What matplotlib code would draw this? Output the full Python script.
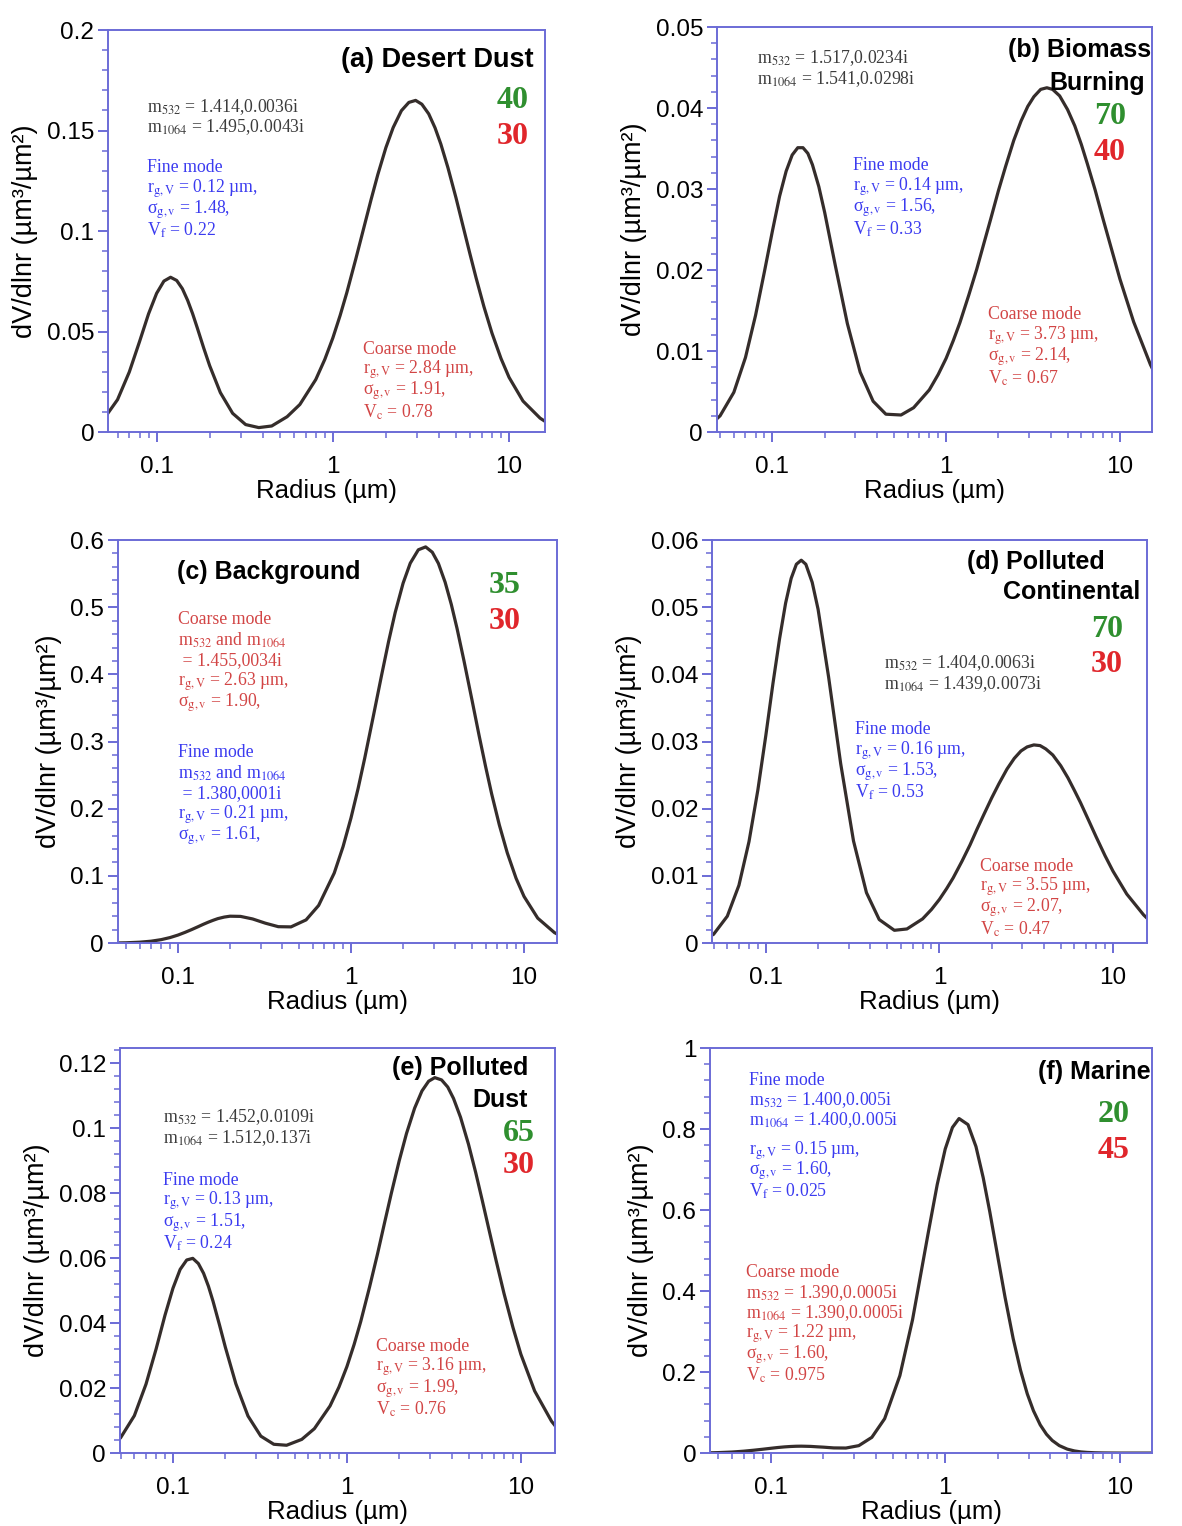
import matplotlib
matplotlib.use('Agg')
import matplotlib.pyplot as plt
from matplotlib.ticker import FixedLocator, MultipleLocator, LogLocator, FuncFormatter, NullFormatter

plt.rcParams['font.family'] = ['Liberation Sans', 'DejaVu Sans']
plt.rcParams['mathtext.fontset'] = 'stix'

# radius (um), shared by all six panels
radius = [0.045, 0.05, 0.06, 0.07, 0.08, 0.09, 0.10, 0.11, 0.12, 0.13, 0.14, 0.15, 0.16,
          0.17, 0.185, 0.20, 0.23, 0.27, 0.32, 0.38, 0.45, 0.55, 0.65, 0.80, 0.90, 1.0,
          1.1, 1.2, 1.35, 1.5, 1.65, 1.8, 2.0, 2.2, 2.45, 2.7, 2.95, 3.2, 3.5, 3.8, 4.1,
          4.5, 5.0, 5.5, 6.0, 6.5, 7.2, 8.0, 9.0, 10.0, 12.0, 15.0, 16.0]

# dV/dlnr (um^3/um^2)
desert_dust = [0.0034, 0.0063, 0.0161, 0.0299, 0.0450, 0.0588, 0.0690, 0.0751, 0.0770,
               0.0754, 0.0713, 0.0655, 0.0589, 0.0519, 0.0418, 0.0330, 0.0196, 0.0093,
               0.0037, 0.0022, 0.0030, 0.0076, 0.0137, 0.0261, 0.0361, 0.0468, 0.0580,
               0.0693, 0.0861, 0.1017, 0.1158, 0.1281, 0.1415, 0.1515, 0.1599, 0.1640,
               0.1650, 0.1631, 0.1583, 0.1514, 0.1433, 0.1315, 0.1165, 0.1019, 0.0886,
               0.0767, 0.0624, 0.0492, 0.0366, 0.0272, 0.0154, 0.0069, 0.0053]

biomass = [0.0011, 0.0020, 0.0049, 0.0092, 0.0144, 0.0198, 0.0248, 0.0291, 0.0322,
           0.0342, 0.0351, 0.0351, 0.0344, 0.0330, 0.0303, 0.0271, 0.0206, 0.0134,
           0.0074, 0.0038, 0.0022, 0.0021, 0.0030, 0.0052, 0.0071, 0.0091, 0.0113,
           0.0135, 0.0169, 0.0201, 0.0233, 0.0262, 0.0298, 0.0328, 0.0360, 0.0384,
           0.0402, 0.0414, 0.0423, 0.0425, 0.0423, 0.0415, 0.0398, 0.0378, 0.0355,
           0.0331, 0.0299, 0.0263, 0.0224, 0.0189, 0.0136, 0.0083, 0.0071]

background = [0.0002, 0.0004, 0.0013, 0.0028, 0.0051, 0.0082, 0.0119, 0.0160, 0.0201,
              0.0241, 0.0279, 0.0312, 0.0340, 0.0364, 0.0387, 0.0400, 0.0397, 0.0359,
              0.0296, 0.0244, 0.0241, 0.0345, 0.0560, 0.1042, 0.1437, 0.1863, 0.2305,
              0.2751, 0.3394, 0.3979, 0.4492, 0.4920, 0.5357, 0.5655, 0.5855, 0.5898,
              0.5819, 0.5652, 0.5372, 0.5041, 0.4685, 0.4199, 0.3622, 0.3090, 0.2625,
              0.2221, 0.1758, 0.1344, 0.0963, 0.0694, 0.0371, 0.0155, 0.0117]

polluted_cont = [0.0007, 0.0013, 0.0040, 0.0086, 0.0151, 0.0228, 0.0309, 0.0387, 0.0453,
                 0.0506, 0.0543, 0.0564, 0.0570, 0.0564, 0.0537, 0.0497, 0.0396, 0.0267,
                 0.0152, 0.0075, 0.0035, 0.0019, 0.0021, 0.0036, 0.0050, 0.0065, 0.0081,
                 0.0097, 0.0122, 0.0146, 0.0170, 0.0191, 0.0216, 0.0237, 0.0259, 0.0275,
                 0.0286, 0.0292, 0.0295, 0.0294, 0.0289, 0.0280, 0.0264, 0.0246, 0.0227,
                 0.0209, 0.0184, 0.0158, 0.0130, 0.0107, 0.0073, 0.0042, 0.0035]

polluted_dust = [0.0025, 0.0047, 0.0115, 0.0212, 0.0320, 0.0424, 0.0507, 0.0565, 0.0594,
                 0.0599, 0.0583, 0.0553, 0.0513, 0.0467, 0.0395, 0.0326, 0.0213, 0.0114,
                 0.0052, 0.0027, 0.0024, 0.0042, 0.0075, 0.0145, 0.0203, 0.0266, 0.0334,
                 0.0404, 0.0511, 0.0613, 0.0711, 0.0799, 0.0900, 0.0983, 0.1061, 0.1114,
                 0.1144, 0.1155, 0.1148, 0.1126, 0.1091, 0.1033, 0.0950, 0.0863, 0.0777,
                 0.0696, 0.0593, 0.0491, 0.0387, 0.0304, 0.0191, 0.0098, 0.0079]

marine = [0.0006, 0.0011, 0.0025, 0.0046, 0.0070, 0.0094, 0.0117, 0.0137, 0.0152,
          0.0162, 0.0168, 0.0170, 0.0167, 0.0164, 0.0154, 0.0146, 0.0127, 0.0124,
          0.0183, 0.0388, 0.0849, 0.1912, 0.3293, 0.5445, 0.663, 0.7507, 0.804,
          0.826, 0.811, 0.7568, 0.680, 0.5957, 0.4848, 0.3852, 0.2826, 0.2044,
          0.1463, 0.1046, 0.0696, 0.0465, 0.0311, 0.0184, 0.0097, 0.0052, 0.0028,
          0.0016, 0.0007, 0.0003, 0.0001, 0.0, 0.0, 0.0, 0.0]

AXIS = '#6b6bd6'
CURVE = '#352d2b'
FINE = '#3b3bf0'
COARSE = '#d24545'
GREY = '#3c3c3c'
GREEN = '#2f8f2f'
RED = '#e0262b'
SERIF = ['Liberation Serif', 'DejaVu Serif']

fig = plt.figure(figsize=(11.82, 15.26), dpi=100)


def make_panel(rect, r, v, xlim, top, major, minor):
    ax = fig.add_axes(rect)
    ax.plot(r, v, color=CURVE, lw=2.3, solid_joinstyle='round')
    ax.set_xscale('log')
    ax.set_xlim(*xlim)
    ax.set_ylim(0, top)
    ax.xaxis.set_major_locator(FixedLocator([0.1, 1, 10]))
    ax.xaxis.set_major_formatter(FuncFormatter(lambda x, p: f'{x:g}'))
    ax.xaxis.set_minor_locator(LogLocator(base=10, subs=range(2, 10)))
    ax.xaxis.set_minor_formatter(NullFormatter())
    ax.yaxis.set_major_locator(MultipleLocator(major))
    ax.yaxis.set_minor_locator(MultipleLocator(minor))
    ax.yaxis.set_major_formatter(FuncFormatter(lambda y, p: f'{y:g}'))
    for s in ax.spines.values():
        s.set_color(AXIS)
        s.set_linewidth(1.4)
    ax.tick_params(which='both', direction='out', color=AXIS, labelcolor='black',
                   labelsize=17.5, top=False, right=False)
    ax.tick_params(which='major', length=7, width=1.4, pad=3)
    ax.tick_params(axis='x', which='major', pad=10)
    ax.tick_params(which='minor', length=4, width=1.1)
    ax.set_xlabel('Radius (µm)', fontsize=18.5, labelpad=1)
    ax.set_ylabel('dV/dlnr (µm³/µm²)', fontsize=19.5, labelpad=6)
    return ax


def note(ax, x, y, lines, color, dy=0.052):
    for i, s in enumerate(lines):
        ax.text(x, y - i * dy, s, transform=ax.transAxes, color=color, fontsize=12.8,
                family=SERIF, ha='left', va='center')


def title(ax, x, y, s, size=18, ha='right'):
    ax.text(x, y, s, transform=ax.transAxes, fontsize=size, fontweight='bold',
            ha=ha, va='center')


def counts(ax, x, y1, y2, n1, n2):
    ax.text(x, y1, n1, transform=ax.transAxes, color=GREEN, fontsize=23,
            fontweight='bold', family=SERIF, ha='right', va='center')
    ax.text(x, y2, n2, transform=ax.transAxes, color=RED, fontsize=23,
            fontweight='bold', family=SERIF, ha='right', va='center')


# (a) Desert Dust
ax = make_panel([0.0914, 0.7169, 0.3697, 0.2634], radius, desert_dust, (0.053, 16), 0.2, 0.05, 0.01)
title(ax, 0.973, 0.925, '(a) Desert Dust', size=19.5)
counts(ax, 0.963, 0.826, 0.734, '40', '30')
note(ax, 0.089, 0.808, [r'm$_{532}$ = 1.414,0.0036i', r'm$_{1064}$ = 1.495,0.0043i'], GREY, dy=0.049)
note(ax, 0.089, 0.657, ['Fine mode', r'r$_{\mathrm{g,V}}$ = 0.12 µm,',
                        r'σ$_{\mathrm{g,v}}$ = 1.48,', r'V$_{\mathrm{f}}$ = 0.22'], FINE)
note(ax, 0.584, 0.206, ['Coarse mode', r'r$_{\mathrm{g,V}}$ = 2.84 µm,',
                        r'σ$_{\mathrm{g,v}}$ = 1.91,', r'V$_{\mathrm{c}}$ = 0.78'], COARSE)

# (b) Biomass Burning
ax = make_panel([0.6066, 0.7169, 0.368, 0.2654], radius, biomass, (0.048, 15.3), 0.05, 0.01, 0.002)
title(ax, 0.997, 0.943, '(b) Biomass')
title(ax, 0.984, 0.862, 'Burning')
counts(ax, 0.940, 0.778, 0.689, '70', '40')
note(ax, 0.092, 0.923, [r'm$_{532}$ = 1.517,0.0234i', r'm$_{1064}$ = 1.541,0.0298i'], GREY, dy=0.051)
note(ax, 0.313, 0.657, ['Fine mode', r'r$_{\mathrm{g,V}}$ = 0.14 µm,',
                        r'σ$_{\mathrm{g,v}}$ = 1.56,', r'V$_{\mathrm{f}}$ = 0.33'], FINE)
note(ax, 0.623, 0.289, ['Coarse mode', r'r$_{\mathrm{g,V}}$ = 3.73 µm,',
                        r'σ$_{\mathrm{g,v}}$ = 2.14,', r'V$_{\mathrm{c}}$ = 0.67'], COARSE)

# (c) Background
ax = make_panel([0.0998, 0.382, 0.3714, 0.2641], radius, background, (0.045, 15.5), 0.6, 0.1, 0.02)
title(ax, 0.134, 0.921, '(c) Background', ha='left')
counts(ax, 0.918, 0.886, 0.797, '35', '30')
note(ax, 0.137, 0.804, ['Coarse mode', r'm$_{532}$ and m$_{1064}$', ' = 1.455,0034i',
                        r'r$_{\mathrm{g,V}}$ = 2.63 µm,', r'σ$_{\mathrm{g,v}}$ = 1.90,'], COARSE)
note(ax, 0.137, 0.474, ['Fine mode', r'm$_{532}$ and m$_{1064}$', ' = 1.380,0001i',
                        r'r$_{\mathrm{g,V}}$ = 0.21 µm,', r'σ$_{\mathrm{g,v}}$ = 1.61,'], FINE)

# (d) Polluted Continental
ax = make_panel([0.6024, 0.382, 0.368, 0.2641], radius, polluted_cont, (0.049, 15.7), 0.06, 0.01, 0.002)
title(ax, 0.903, 0.945, '(d) Polluted')
title(ax, 0.984, 0.871, 'Continental')
counts(ax, 0.945, 0.779, 0.690, '70', '30')
note(ax, 0.395, 0.695, [r'm$_{532}$ = 1.404,0.0063i', r'm$_{1064}$ = 1.439,0.0073i'], GREY)
note(ax, 0.329, 0.529, ['Fine mode', r'r$_{\mathrm{g,V}}$ = 0.16 µm,',
                        r'σ$_{\mathrm{g,v}}$ = 1.53,', r'V$_{\mathrm{f}}$ = 0.53'], FINE)
note(ax, 0.616, 0.191, ['Coarse mode', r'r$_{\mathrm{g,V}}$ = 3.55 µm,',
                        r'σ$_{\mathrm{g,v}}$ = 2.07,', r'V$_{\mathrm{c}}$ = 0.47'], COARSE)

# (e) Polluted Dust
ax = make_panel([0.1015, 0.0478, 0.368, 0.2654], radius, polluted_dust, (0.0496, 15.7), 0.1246, 0.02, 0.004)
title(ax, 0.938, 0.951, '(e) Polluted')
title(ax, 0.938, 0.872, 'Dust')
counts(ax, 0.954, 0.790, 0.709, '65', '30')
note(ax, 0.099, 0.830, [r'm$_{532}$ = 1.452,0.0109i', r'm$_{1064}$ = 1.512,0.137i'], GREY)
note(ax, 0.099, 0.674, ['Fine mode', r'r$_{\mathrm{g,V}}$ = 0.13 µm,',
                        r'σ$_{\mathrm{g,v}}$ = 1.51,', r'V$_{\mathrm{f}}$ = 0.24'], FINE)
note(ax, 0.589, 0.264, ['Coarse mode', r'r$_{\mathrm{g,V}}$ = 3.16 µm,',
                        r'σ$_{\mathrm{g,v}}$ = 1.99,', r'V$_{\mathrm{c}}$ = 0.76'], COARSE)

# (f) Marine
ax = make_panel([0.6007, 0.0478, 0.374, 0.2654], radius, marine, (0.045, 15.3), 1.0, 0.2, 0.04)
title(ax, 0.997, 0.941, '(f) Marine')
counts(ax, 0.950, 0.837, 0.748, '20', '45')
note(ax, 0.088, 0.921, ['Fine mode', r'm$_{532}$ = 1.400,0.005i', r'm$_{1064}$ = 1.400,0.005i'], FINE, dy=0.05)
note(ax, 0.088, 0.746, [r'r$_{\mathrm{g,V}}$ = 0.15 µm,', r'σ$_{\mathrm{g,v}}$ = 1.60,',
                        r'V$_{\mathrm{f}}$ = 0.025'], FINE, dy=0.05)
note(ax, 0.082, 0.447, ['Coarse mode', r'm$_{532}$ = 1.390,0.0005i', r'm$_{1064}$ = 1.390,0.0005i',
                        r'r$_{\mathrm{g,V}}$ = 1.22 µm,', r'σ$_{\mathrm{g,v}}$ = 1.60,',
                        r'V$_{\mathrm{c}}$ = 0.975'], COARSE, dy=0.0508)

fig.savefig('out.png', dpi=100)
